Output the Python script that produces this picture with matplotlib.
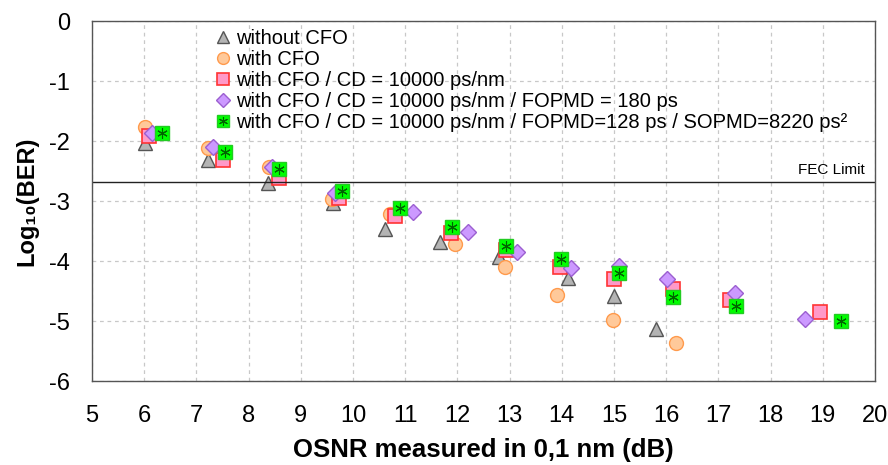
import matplotlib
matplotlib.use("Agg")
import matplotlib.pyplot as plt
from matplotlib.legend_handler import HandlerTuple

plt.rcParams["font.family"] = ["Liberation Sans", "DejaVu Sans"]
plt.rcParams["axes.unicode_minus"] = False

# --- data ---
osnr_no_cfo = [6.02, 7.22, 8.37, 9.62, 10.61, 11.67, 12.80, 14.12, 15.00, 15.80]
ber_no_cfo = [-2.03, -2.32, -2.70, -3.03, -3.47, -3.68, -3.93, -4.28, -4.58, -5.13]

osnr_cfo = [6.02, 7.22, 8.39, 9.60, 10.71, 11.95, 12.92, 13.91, 14.98, 16.18]
ber_cfo = [-1.77, -2.11, -2.43, -2.96, -3.22, -3.71, -4.10, -4.57, -4.99, -5.37]

osnr_cd = [6.09, 7.51, 8.58, 9.73, 10.80, 11.88, 12.93, 13.97, 15.00, 16.13, 17.22, 18.95]
ber_cd = [-1.92, -2.32, -2.62, -2.95, -3.25, -3.53, -3.82, -4.10, -4.30, -4.47, -4.65, -4.85]

osnr_fopmd = [6.15, 7.32, 8.45, 9.66, 11.15, 12.20, 13.14, 14.18, 15.10, 16.02, 17.32, 18.66]
ber_fopmd = [-1.87, -2.10, -2.43, -2.87, -3.18, -3.52, -3.85, -4.12, -4.09, -4.30, -4.53, -4.97]

osnr_sopmd = [6.34, 7.55, 8.58, 9.79, 10.90, 11.90, 12.93, 13.98, 15.10, 16.13, 17.34, 19.35]
ber_sopmd = [-1.87, -2.18, -2.47, -2.83, -3.12, -3.43, -3.75, -3.97, -4.20, -4.60, -4.75, -5.00]

fec_limit = -2.68

labels = ["without CFO",
          "with CFO",
          "with CFO / CD = 10000 ps/nm",
          "with CFO / CD = 10000 ps/nm / FOPMD = 180 ps",
          "with CFO / CD = 10000 ps/nm / FOPMD=128 ps / SOPMD=8220 ps²"]

fig = plt.figure(figsize=(8.88, 4.65), dpi=100)
ax = fig.add_axes([0.1036, 0.1806, 0.8818, 0.7742])

ms = 10
h1, = ax.plot(osnr_no_cfo, ber_no_cfo, ls="none", marker="^", ms=ms,
              mfc="#b4b4b4", mec="#555555", mew=1.0)
h2, = ax.plot(osnr_cfo, ber_cfo, ls="none", marker="o", ms=ms,
              mfc="#ffc99a", mec="#ff9a4c", mew=1.0)
h3, = ax.plot(osnr_cd, ber_cd, ls="none", marker="s", ms=ms,
              mfc="#ff99c8", mec="#ff3333", mew=1.2)
h4, = ax.plot(osnr_fopmd, ber_fopmd, ls="none", marker="D", ms=ms * 0.8,
              mfc="#cc99ff", mec="#9b5fd0", mew=1.0)
h5a, = ax.plot(osnr_sopmd, ber_sopmd, ls="none", marker="s", ms=ms,
               mfc="#00ff00", mec="#22cc22", mew=1.0)
h5b, = ax.plot(osnr_sopmd, ber_sopmd, ls="none", marker=(6, 2, 0), ms=ms * 0.75,
               mec="#006400", mew=0.8)

ax.axhline(fec_limit, color="#222222", lw=1.0)
ax.text(19.8, fec_limit + 0.08, "FEC Limit", ha="right", va="bottom", fontsize=11)

ax.set_xlim(5, 20)
ax.set_ylim(-6, 0)
ax.set_xticks(range(5, 21))
ax.set_yticks(range(-6, 1))
ax.grid(True, ls=(0, (3, 3)), color="#c8c8c8", lw=0.9)
ax.set_axisbelow(True)
ax.tick_params(length=0, labelsize=17)
ax.tick_params(axis="x", pad=17)
ax.tick_params(axis="y", pad=16)
for s in ax.spines.values():
    s.set_color("#555555")
    s.set_linewidth(1.0)

ax.set_xlabel("OSNR measured in 0,1 nm (dB)", fontsize=18.5, fontweight="bold")
ax.xaxis.set_label_coords(0.5, -0.158)
ax.set_ylabel("Log₁₀(BER)", fontsize=17, fontweight="bold")
ax.yaxis.set_label_coords(-0.069, 0.5)

ax.legend([h1, h2, h3, h4, (h5a, h5b)], labels,
          handler_map={tuple: HandlerTuple(ndivide=1, pad=0)},
          loc="upper left", bbox_to_anchor=(0.148, 1.0),
          frameon=False, fontsize=14.5, handlelength=0.7, handletextpad=0.3,
          labelspacing=0.1, borderaxespad=0.2, borderpad=0.2, markerscale=0.85)

fig.savefig("out.png", dpi=100)
